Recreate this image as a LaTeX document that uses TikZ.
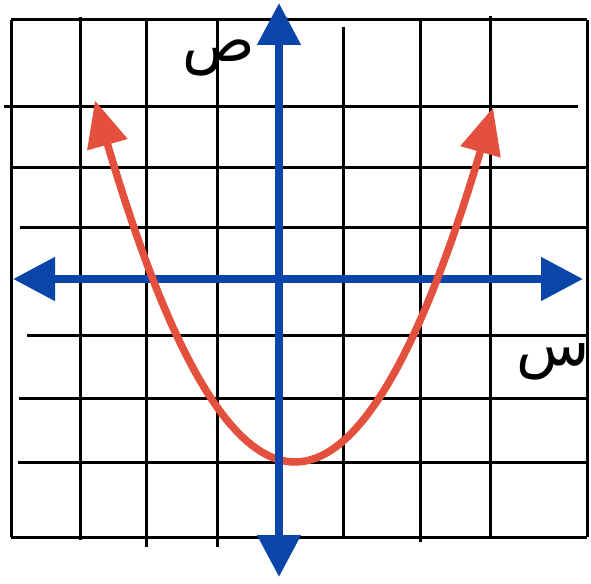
\documentclass[tikz,border=0pt]{standalone}
\usepackage{fontspec}
\newfontfamily\arabicfont[Script=Arabic]{DejaVu Sans}
\TeXXeTstate=1
\usetikzlibrary{arrows.meta}
\definecolor{axisblue}{RGB}{10,70,170}
\definecolor{curvered}{RGB}{228,80,62}

\begin{document}
\begin{tikzpicture}[x=1pt, y=-1pt]

    \tikzstyle{gridline} = [black, line width=3pt]
    \tikzstyle{axisline} = [axisblue, line width=8pt, {Triangle[length=42pt, width=42pt]}-{Triangle[length=42pt, width=42pt]}]
    \tikzstyle{curveline} = [curvered, line width=7.5pt, {Triangle[length=46pt, width=40pt]}-{Triangle[length=46pt, width=40pt]}]
    \tikzstyle{axislabel} = [font={\arabicfont\fontsize{60}{60}\selectfont}, inner sep=0pt]

    \useasboundingbox (0,0) rectangle (591,583);

    % grid
    \foreach \y/\xa/\xb in {20/11/587, 107/4/578, 167/11/587, 227/20/587, 335/27/587, 398/19/587, 462/18/587, 537/11/587}
        \draw[gridline] (\xa,\y) -- (\xb,\y);
    \foreach \x/\ya/\yb in {11/20/537, 80/17/540, 146/20/547, 217/20/547, 343/27/537, 420/20/542, 490/16/537, 587/20/537}
        \draw[gridline] (\x,\ya) -- (\x,\yb);

    \node (ylabel) [axislabel] at (219,58) {\beginR ص\endR};
    \node (xlabel) [axislabel] at (553,362) {\beginR س\endR};

    \coordinate (west) at (13,279);
    \coordinate (east) at (583,279);
    \coordinate (north) at (279,3);
    \coordinate (south) at (279,577);

    \draw[axisline] (west) -- (east);
    \draw[curveline] plot[domain=-20:19.8, samples=80] ({295+10*\x}, {462-0.904*\x*\x});
    \draw[axisline] (north) -- (south);

\end{tikzpicture}
\end{document}
